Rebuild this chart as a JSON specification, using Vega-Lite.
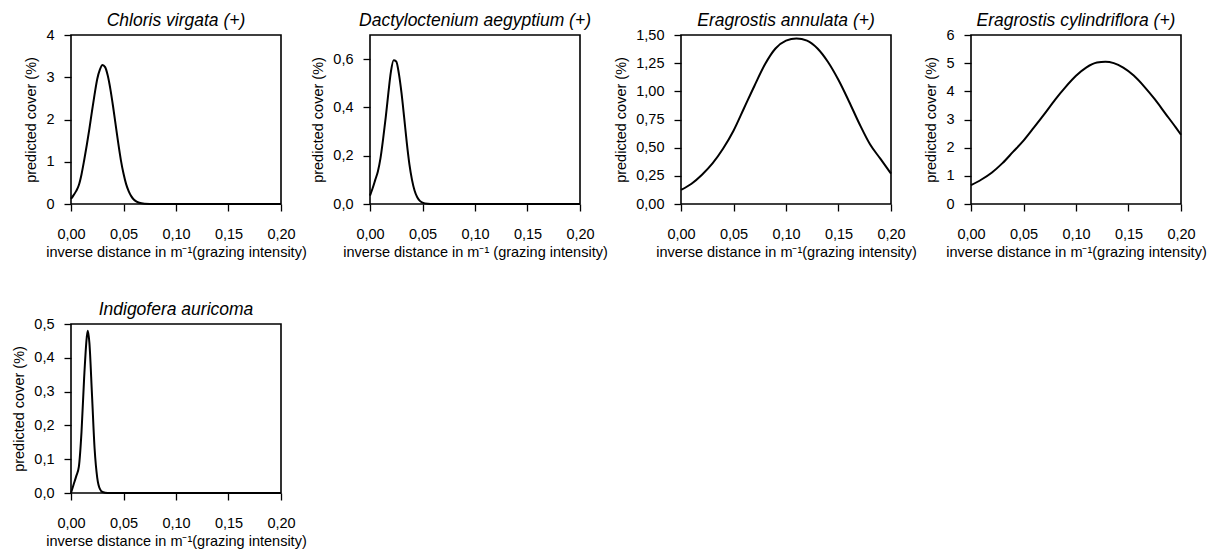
{
  "$schema": "https://vega.github.io/schema/vega-lite/v6.json",
  "padding": {"left": 11, "top": 10, "right": 5, "bottom": 5},
  "background": "white",
  "config": {
    "font": "Liberation Sans",
    "view": {"stroke": "black", "strokeWidth": 1.6},
    "axis": {
      "domain": false, "grid": false,
      "tickColor": "black", "tickSize": 7, "tickWidth": 1.3,
      "labelColor": "black", "labelFontSize": 14.5, "labelFont": "Liberation Sans",
      "labelFlush": false, "labelOverlap": false,
      "titleFontSize": 14.5, "titleFontWeight": "normal", "titleColor": "black", "titleFont": "Liberation Sans"
    },
    "axisX": {"labelPadding": 16, "titlePadding": 5},
    "axisY": {"labelPadding": 10, "titlePadding": 7},
    "title": {"fontSize": 17.5, "fontStyle": "italic", "fontWeight": "normal", "color": "black", "frame": "group", "anchor": "middle", "offset": -2, "font": "Liberation Sans"},
    "line": {"color": "black", "strokeWidth": 2, "interpolate": "monotone"}
  },
  "data": {"values": [
    {"panel": "CV", "x": 0, "y": 0.12},
    {"panel": "CV", "x": 0.0025, "y": 0.21},
    {"panel": "CV", "x": 0.005, "y": 0.31},
    {"panel": "CV", "x": 0.0075, "y": 0.45},
    {"panel": "CV", "x": 0.01, "y": 0.7},
    {"panel": "CV", "x": 0.0125, "y": 1.03},
    {"panel": "CV", "x": 0.015, "y": 1.39},
    {"panel": "CV", "x": 0.0175, "y": 1.78},
    {"panel": "CV", "x": 0.02, "y": 2.2},
    {"panel": "CV", "x": 0.0225, "y": 2.6},
    {"panel": "CV", "x": 0.025, "y": 2.96},
    {"panel": "CV", "x": 0.0275, "y": 3.18},
    {"panel": "CV", "x": 0.03, "y": 3.29},
    {"panel": "CV", "x": 0.0325, "y": 3.24},
    {"panel": "CV", "x": 0.035, "y": 3.04},
    {"panel": "CV", "x": 0.0375, "y": 2.72},
    {"panel": "CV", "x": 0.04, "y": 2.32},
    {"panel": "CV", "x": 0.0425, "y": 1.88},
    {"panel": "CV", "x": 0.045, "y": 1.44},
    {"panel": "CV", "x": 0.0475, "y": 1.04},
    {"panel": "CV", "x": 0.05, "y": 0.72},
    {"panel": "CV", "x": 0.0525, "y": 0.47},
    {"panel": "CV", "x": 0.055, "y": 0.3},
    {"panel": "CV", "x": 0.0575, "y": 0.18},
    {"panel": "CV", "x": 0.06, "y": 0.1},
    {"panel": "CV", "x": 0.0625, "y": 0.055},
    {"panel": "CV", "x": 0.065, "y": 0.028},
    {"panel": "CV", "x": 0.07, "y": 0.008},
    {"panel": "CV", "x": 0.08, "y": 0},
    {"panel": "CV", "x": 0.1, "y": 0},
    {"panel": "CV", "x": 0.12, "y": 0},
    {"panel": "CV", "x": 0.14, "y": 0},
    {"panel": "CV", "x": 0.16, "y": 0},
    {"panel": "CV", "x": 0.18, "y": 0},
    {"panel": "CV", "x": 0.2, "y": 0},

    {"panel": "DA", "x": 0, "y": 0.035},
    {"panel": "DA", "x": 0.0025, "y": 0.065},
    {"panel": "DA", "x": 0.005, "y": 0.1},
    {"panel": "DA", "x": 0.0075, "y": 0.135},
    {"panel": "DA", "x": 0.01, "y": 0.19},
    {"panel": "DA", "x": 0.0125, "y": 0.27},
    {"panel": "DA", "x": 0.015, "y": 0.36},
    {"panel": "DA", "x": 0.0175, "y": 0.46},
    {"panel": "DA", "x": 0.02, "y": 0.55},
    {"panel": "DA", "x": 0.0225, "y": 0.595},
    {"panel": "DA", "x": 0.025, "y": 0.59},
    {"panel": "DA", "x": 0.0275, "y": 0.54},
    {"panel": "DA", "x": 0.03, "y": 0.46},
    {"panel": "DA", "x": 0.0325, "y": 0.36},
    {"panel": "DA", "x": 0.035, "y": 0.255},
    {"panel": "DA", "x": 0.0375, "y": 0.165},
    {"panel": "DA", "x": 0.04, "y": 0.1},
    {"panel": "DA", "x": 0.0425, "y": 0.055},
    {"panel": "DA", "x": 0.045, "y": 0.028},
    {"panel": "DA", "x": 0.0475, "y": 0.013},
    {"panel": "DA", "x": 0.05, "y": 0.006},
    {"panel": "DA", "x": 0.055, "y": 0.001},
    {"panel": "DA", "x": 0.06, "y": 0},
    {"panel": "DA", "x": 0.08, "y": 0},
    {"panel": "DA", "x": 0.1, "y": 0},
    {"panel": "DA", "x": 0.12, "y": 0},
    {"panel": "DA", "x": 0.14, "y": 0},
    {"panel": "DA", "x": 0.16, "y": 0},
    {"panel": "DA", "x": 0.18, "y": 0},
    {"panel": "DA", "x": 0.2, "y": 0},

    {"panel": "EA", "x": 0, "y": 0.125},
    {"panel": "EA", "x": 0.01, "y": 0.18},
    {"panel": "EA", "x": 0.02, "y": 0.26},
    {"panel": "EA", "x": 0.03, "y": 0.36},
    {"panel": "EA", "x": 0.04, "y": 0.49},
    {"panel": "EA", "x": 0.05, "y": 0.65},
    {"panel": "EA", "x": 0.06, "y": 0.85},
    {"panel": "EA", "x": 0.07, "y": 1.05},
    {"panel": "EA", "x": 0.08, "y": 1.24},
    {"panel": "EA", "x": 0.09, "y": 1.38},
    {"panel": "EA", "x": 0.1, "y": 1.45},
    {"panel": "EA", "x": 0.11, "y": 1.47},
    {"panel": "EA", "x": 0.12, "y": 1.45},
    {"panel": "EA", "x": 0.13, "y": 1.38},
    {"panel": "EA", "x": 0.14, "y": 1.26},
    {"panel": "EA", "x": 0.15, "y": 1.1},
    {"panel": "EA", "x": 0.16, "y": 0.91},
    {"panel": "EA", "x": 0.17, "y": 0.71},
    {"panel": "EA", "x": 0.18, "y": 0.53},
    {"panel": "EA", "x": 0.19, "y": 0.4},
    {"panel": "EA", "x": 0.2, "y": 0.27},

    {"panel": "EC", "x": 0, "y": 0.67},
    {"panel": "EC", "x": 0.01, "y": 0.87},
    {"panel": "EC", "x": 0.02, "y": 1.12},
    {"panel": "EC", "x": 0.03, "y": 1.45},
    {"panel": "EC", "x": 0.04, "y": 1.85},
    {"panel": "EC", "x": 0.05, "y": 2.25},
    {"panel": "EC", "x": 0.06, "y": 2.72},
    {"panel": "EC", "x": 0.07, "y": 3.2},
    {"panel": "EC", "x": 0.08, "y": 3.7},
    {"panel": "EC", "x": 0.09, "y": 4.15},
    {"panel": "EC", "x": 0.1, "y": 4.55},
    {"panel": "EC", "x": 0.11, "y": 4.85},
    {"panel": "EC", "x": 0.12, "y": 5.02},
    {"panel": "EC", "x": 0.128, "y": 5.05},
    {"panel": "EC", "x": 0.136, "y": 5.0},
    {"panel": "EC", "x": 0.145, "y": 4.84},
    {"panel": "EC", "x": 0.155, "y": 4.56},
    {"panel": "EC", "x": 0.165, "y": 4.17},
    {"panel": "EC", "x": 0.175, "y": 3.72},
    {"panel": "EC", "x": 0.185, "y": 3.22},
    {"panel": "EC", "x": 0.195, "y": 2.72},
    {"panel": "EC", "x": 0.2, "y": 2.46},

    {"panel": "IA", "x": 0, "y": 0},
    {"panel": "IA", "x": 0.0025, "y": 0.025},
    {"panel": "IA", "x": 0.005, "y": 0.05},
    {"panel": "IA", "x": 0.0075, "y": 0.078},
    {"panel": "IA", "x": 0.01, "y": 0.18},
    {"panel": "IA", "x": 0.0125, "y": 0.34},
    {"panel": "IA", "x": 0.015, "y": 0.46},
    {"panel": "IA", "x": 0.016, "y": 0.48},
    {"panel": "IA", "x": 0.0175, "y": 0.445},
    {"panel": "IA", "x": 0.02, "y": 0.29},
    {"panel": "IA", "x": 0.0225, "y": 0.13},
    {"panel": "IA", "x": 0.025, "y": 0.045},
    {"panel": "IA", "x": 0.0275, "y": 0.012},
    {"panel": "IA", "x": 0.03, "y": 0.003},
    {"panel": "IA", "x": 0.035, "y": 0},
    {"panel": "IA", "x": 0.06, "y": 0},
    {"panel": "IA", "x": 0.1, "y": 0},
    {"panel": "IA", "x": 0.14, "y": 0},
    {"panel": "IA", "x": 0.2, "y": 0}
  ]},
  "concat": [
    {
      "width": 210, "height": 169,
      "title": "Chloris virgata (+)",
      "transform": [{"filter": "datum.panel === 'CV'"}],
      "mark": "line",
      "encoding": {
        "x": {"field": "x", "type": "quantitative", "scale": {"domain": [0, 0.2], "nice": false}, "axis": {"values": [0, 0.05, 0.1, 0.15, 0.2], "labelExpr": "replace(format(datum.value, '.2f'), '.', ',')", "title": "inverse distance in m⁻¹(grazing intensity)"}},
        "y": {"field": "y", "type": "quantitative", "scale": {"domain": [0, 4], "nice": false}, "axis": {"values": [0, 1, 2, 3, 4], "labelExpr": "format(datum.value, 'd')", "title": "predicted cover (%)"}}
      }
    },
    {
      "hconcat": [
        {
          "width": 210, "height": 169,
          "title": {"text": "Dactyloctenium aegyptium (+)", "offset": 6},
          "transform": [{"filter": "datum.panel === 'DA'"}],
          "mark": "line",
          "encoding": {
            "x": {"field": "x", "type": "quantitative", "scale": {"domain": [0, 0.2], "nice": false}, "axis": {"values": [0, 0.05, 0.1, 0.15, 0.2], "labelExpr": "replace(format(datum.value, '.2f'), '.', ',')", "title": "inverse distance in m⁻¹ (grazing intensity)"}},
            "y": {"field": "y", "type": "quantitative", "scale": {"domain": [0, 0.7], "nice": false}, "axis": {"values": [0, 0.2, 0.4, 0.6], "labelExpr": "replace(format(datum.value, '.1f'), '.', ',')", "title": "predicted cover (%)"}}
          }
        },
        {
          "hconcat": [
            {
              "width": 210, "height": 169,
              "title": "Eragrostis annulata (+)",
              "transform": [{"filter": "datum.panel === 'EA'"}],
              "mark": "line",
              "encoding": {
                "x": {"field": "x", "type": "quantitative", "scale": {"domain": [0, 0.2], "nice": false}, "axis": {"values": [0, 0.05, 0.1, 0.15, 0.2], "labelExpr": "replace(format(datum.value, '.2f'), '.', ',')", "title": "inverse distance in m⁻¹(grazing intensity)"}},
                "y": {"field": "y", "type": "quantitative", "scale": {"domain": [0, 1.5], "nice": false}, "axis": {"values": [0, 0.25, 0.5, 0.75, 1, 1.25, 1.5], "labelExpr": "replace(format(datum.value, '.2f'), '.', ',')", "title": "predicted cover (%)"}}
              }
            },
            {
              "width": 210, "height": 169,
              "title": "Eragrostis cylindriflora (+)",
              "transform": [{"filter": "datum.panel === 'EC'"}],
              "mark": "line",
              "encoding": {
                "x": {"field": "x", "type": "quantitative", "scale": {"domain": [0, 0.2], "nice": false}, "axis": {"values": [0, 0.05, 0.1, 0.15, 0.2], "labelExpr": "replace(format(datum.value, '.2f'), '.', ',')", "title": "inverse distance in m⁻¹(grazing intensity)"}},
                "y": {"field": "y", "type": "quantitative", "scale": {"domain": [0, 6], "nice": false}, "axis": {"values": [0, 1, 2, 3, 4, 5, 6], "labelExpr": "format(datum.value, 'd')", "title": "predicted cover (%)"}}
              }
            }
          ],
          "spacing": 80,
          "bounds": "flush"
        }
      ],
      "spacing": 101,
      "bounds": "flush"
    },
    {
      "width": 210, "height": 169,
      "title": "Indigofera auricoma",
      "transform": [{"filter": "datum.panel === 'IA'"}],
      "mark": "line",
      "encoding": {
        "x": {"field": "x", "type": "quantitative", "scale": {"domain": [0, 0.2], "nice": false}, "axis": {"values": [0, 0.05, 0.1, 0.15, 0.2], "labelExpr": "replace(format(datum.value, '.2f'), '.', ',')", "title": "inverse distance in m⁻¹(grazing intensity)"}},
        "y": {"field": "y", "type": "quantitative", "scale": {"domain": [0, 0.5], "nice": false}, "axis": {"values": [0, 0.1, 0.2, 0.3, 0.4, 0.5], "labelExpr": "replace(format(datum.value, '.1f'), '.', ',')", "title": "predicted cover (%)"}}
      }
    }
  ],
  "columns": 2,
  "spacing": {"row": 120, "column": 89},
  "bounds": "flush"
}
